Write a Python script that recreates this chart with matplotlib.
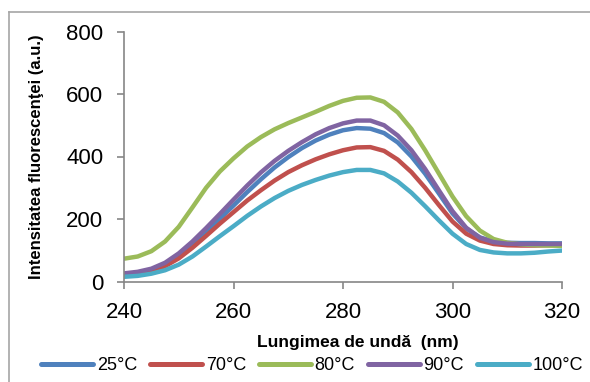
import matplotlib
import matplotlib.pyplot as plt
import numpy as np
from matplotlib.lines import Line2D

matplotlib.use("agg")

plt.rcParams["font.family"] = ["Liberation Sans", "DejaVu Sans"]

# wavelength grid (nm), 2.5 nm steps
wavelength = np.arange(240, 320.1, 2.5)

t25 = [22, 27, 37, 55, 84, 120, 160, 201, 243, 286, 327, 365, 398, 427, 451, 470, 484,
       491, 489, 475, 445, 400, 345, 282, 218, 170, 141, 128, 124, 123, 123, 122, 122]
t70 = [20, 24, 33, 49, 74, 108, 146, 185, 222, 259, 292, 323, 350, 372, 391, 407, 420,
       429, 430, 418, 390, 350, 300, 245, 192, 153, 131, 120, 116, 115, 115, 116, 117]
t80 = [73, 80, 97, 128, 175, 237, 300, 352, 394, 432, 462, 487, 507, 525, 543, 562, 578,
       588, 589, 575, 541, 488, 420, 346, 272, 209, 163, 136, 124, 119, 116, 115, 114]
t90 = [26, 31, 41, 60, 90, 128, 171, 216, 262, 307, 349, 386, 418, 446, 471, 491, 506,
       515, 515, 500, 467, 420, 360, 292, 225, 172, 140, 126, 121, 120, 120, 120, 120]
t100 = [15, 18, 25, 36, 54, 80, 112, 145, 177, 210, 240, 267, 290, 309, 325, 339, 350,
        357, 357, 346, 320, 284, 241, 196, 153, 120, 101, 93, 90, 90, 92, 96, 99]

series = [t25, t70, t80, t90, t100]
labels = ["25°C", "70°C", "80°C", "90°C", "100°C"]
colors = ["#4F81BD", "#C0504D", "#9BBB59", "#8064A2", "#4BACC6"]

W, H = 590, 382
fig = plt.figure(figsize=(W / 100, H / 100), dpi=100)
ax = fig.add_axes([124 / W, 1 - 281.5 / H, 438 / W, 250 / H])

for vals, lab, col in zip(series, labels, colors):
    ax.plot(wavelength, vals, color=col, lw=3.2, label=lab, solid_capstyle="round",
            solid_joinstyle="round")

ax.set_xlim(240, 320)
ax.set_ylim(0, 800)
ax.set_xticks([240, 260, 280, 300, 320])
ax.set_yticks([0, 200, 400, 600, 800])

axis_gray = "#868686"
for side in ["top", "right"]:
    ax.spines[side].set_visible(False)
for side in ["left", "bottom"]:
    ax.spines[side].set_color(axis_gray)
    ax.spines[side].set_linewidth(1.2)
ax.spines["bottom"].set_zorder(0)
ax.tick_params(axis="both", direction="out", length=5, width=1.2, color=axis_gray,
               labelsize=16, labelcolor="black")
ax.tick_params(axis="y", pad=10)
ax.tick_params(axis="x", pad=10)

fig.text(358 / W, 1 - 342 / H, "Lungimea de undă  (nm)", ha="center", va="center",
         fontsize=12.5, fontweight="bold")
fig.text(37 / W, 1 - 156.5 / H, "Intensitatea fluorescenţei (a.u.)", ha="center",
         va="center", rotation=90, fontsize=12, fontweight="bold")

leg = fig.legend(loc="center", bbox_to_anchor=(312 / W, 1 - 366 / H), ncol=5,
                 frameon=False, fontsize=13, handlelength=2.9, handletextpad=0.2,
                 columnspacing=0.7, borderaxespad=0, borderpad=0)
for line in leg.get_lines():
    line.set_linewidth(3.6)

# outer chart border (cropped on right and bottom)
border = "#A6A6A6"
fig.add_artist(Line2D([9 / W, 9 / W], [1 - 12 / H, 0], transform=fig.transFigure,
                      color=border, lw=1.2))
fig.add_artist(Line2D([9 / W, 1], [1 - 12 / H, 1 - 12 / H], transform=fig.transFigure,
                      color=border, lw=1.2))

fig.savefig("out.png", dpi=100)
plt.close(fig)
